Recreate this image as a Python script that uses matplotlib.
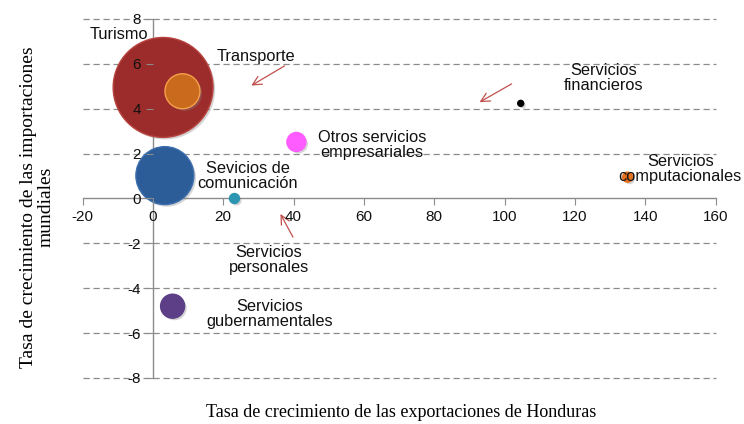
import matplotlib.pyplot as plt
import matplotlib.patheffects as pe

plt.rcParams['axes.unicode_minus'] = False

# sectors (bubble chart)
names = ['Turismo', 'Transporte', 'Comunicacion', 'Otros', 'Personales',
         'Financieros', 'Computacionales', 'Gubernamentales']
x_vals = [2.9, 8.4, 3.4, 40.8, 23.2, 104.6, 135.0, 5.6]
y_vals = [4.95, 4.78, 1.02, 2.52, 0.0, 4.24, 0.95, -4.8]
bubble = [2500, 306, 841, 90, 25, 9, 25, 144]
fills = ['#9B2C2B', '#C96A1D', '#2C5D98', '#FF5CFF', '#2B95B2',
         '#000000', '#E5711E', '#5C3F87']
edges = ['#B8443F', '#F6A04A', '#3B6EAE', '#FF5CFF', '#2B95B2',
         '#000000', '#E5711E', '#5C3F87']

labels = ['Turismo', 'Transporte', 'Servicios\nfinancieros',
          'Otros servicios\nempresariales', 'Sevicios de\ncomunicación',
          'Servicios\ncomputacionales', 'Servicios\npersonales',
          'Servicios\ngubernamentales']
label_x = [-9.6, 29.2, 128.3, 62.3, 27.0, 150.0, 33.0, 33.3]
label_y = [7.3, 6.32, 5.35, 2.40, 1.02, 1.32, -2.72, -5.14]

# leader arrows (from, to)
arrows = [((38.1, 5.97), (27.3, 4.97)),
          ((102.7, 5.17), (92.2, 4.23)),
          ((40.2, -1.83), (35.9, -0.58))]

fig = plt.figure(figsize=(7.44, 4.24), dpi=100)
ax = fig.add_axes([0.111, 0.1085, 0.8507, 0.8467])

ax.set_xlim(-20, 160)
ax.set_ylim(-8, 8)

for yv in range(-8, 9, 2):
    if yv != 0:
        ax.axhline(yv, color='#8C8C8C', lw=0.9, ls=(0, (5, 3)), zorder=0,
                   clip_on=False)

shadow = [pe.SimplePatchShadow(offset=(1.5, -1.5), shadow_rgbFace='#888888', alpha=0.35),
          pe.Normal()]
for i in range(len(names)):
    ax.scatter(x_vals[i], y_vals[i], s=bubble[i] * 2.07, c=fills[i],
               edgecolors=edges[i], linewidths=1.0, zorder=3, path_effects=shadow)

for t, lx, ly in zip(labels, label_x, label_y):
    ax.text(lx, ly, t, ha='center', va='center', fontsize=11.8,
            family='Liberation Sans', color='#111111', zorder=5,
            linespacing=1.0)

for (x0, y0), (x1, y1) in arrows:
    ax.annotate('', xy=(x1, y1), xytext=(x0, y0),
                arrowprops=dict(arrowstyle='->', color='#C0504D', lw=0.9,
                                mutation_scale=16), zorder=4)

ax.spines['left'].set_position(('data', 0))
ax.spines['bottom'].set_position(('data', 0))
ax.spines['top'].set_visible(False)
ax.spines['right'].set_visible(False)
for sp in ['left', 'bottom']:
    ax.spines[sp].set_color('#8C8C8C')
    ax.spines[sp].set_linewidth(1.0)
    ax.spines[sp].set_zorder(1)
ax.xaxis.set_zorder(6)
ax.yaxis.set_zorder(6)

ax.set_xticks(range(-20, 161, 20))
ax.set_yticks(range(-8, 9, 2))
ax.tick_params(direction='out', length=5, color='#8C8C8C', labelsize=11,
               labelcolor='#111111')
for lb in ax.get_xticklabels() + ax.get_yticklabels():
    lb.set_family('Liberation Sans')

fig.text(0.539, 0.026, 'Tasa de crecimiento de las exportaciones de Honduras',
         ha='center', va='center', fontsize=13, family='Liberation Serif')
fig.text(0.05, 0.512, 'Tasa de crecimiento de las importaciones\nmundiales',
         ha='center', va='center', rotation=90, fontsize=14,
         family='Liberation Serif', linespacing=1.0)

fig.savefig('out.png', dpi=100)
